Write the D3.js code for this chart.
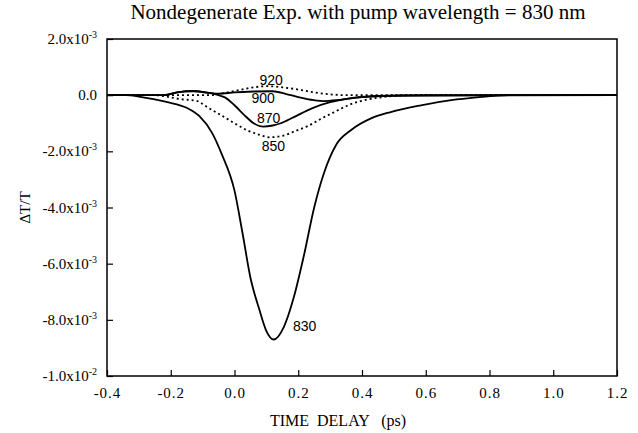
<!DOCTYPE html>
<html>
<head>
<meta charset="utf-8">
<script src="https://cdn.jsdelivr.net/npm/d3@7"></script>
<style>
  body { margin: 0; background: #fff; }
  svg { display: block; }
</style>
</head>
<body>
<div id="chart"></div>
<script>
// values are dT/T in units of 1e-3, time delay in ps
const s830 = [[-0.40, 0], [-0.34, 0], [-0.30, -0.05], [-0.25, -0.15], [-0.21, -0.25], [-0.15, -0.45],
  [-0.11, -0.75], [-0.07, -1.35], [-0.04, -2.1], [0.0, -3.4], [0.025, -4.9], [0.05, -6.5], [0.077, -7.6],
  [0.10, -8.4], [0.123, -8.7], [0.155, -8.25], [0.186, -7.2], [0.217, -5.75], [0.25, -4.0], [0.28, -2.8],
  [0.32, -1.75], [0.365, -1.25], [0.43, -0.82], [0.49, -0.6], [0.585, -0.36], [0.68, -0.18], [0.76, -0.08],
  [0.86, 0], [1.2, 0]];
const s850 = [[-0.40, 0], [-0.25, 0], [-0.20, -0.08], [-0.17, -0.14], [-0.12, -0.2], [-0.085, -0.43],
  [-0.044, -0.7], [0.0, -1.0], [0.04, -1.25], [0.08, -1.42], [0.11, -1.5], [0.15, -1.45], [0.19, -1.28],
  [0.23, -1.1], [0.27, -0.85], [0.31, -0.62], [0.365, -0.32], [0.42, -0.15], [0.48, -0.05], [0.55, 0], [1.2, 0]];
const s870 = [[-0.40, 0], [-0.22, 0], [-0.18, 0.1], [-0.13, 0.14], [-0.08, 0.08], [-0.05, 0], [-0.03, -0.08],
  [0.0, -0.36], [0.03, -0.7], [0.06, -1.0], [0.09, -1.12], [0.12, -1.08], [0.145, -1.0], [0.186, -0.78],
  [0.245, -0.46], [0.30, -0.25], [0.36, -0.12], [0.41, -0.06], [0.5, -0.02], [1.2, 0]];
const s900 = [[-0.40, 0], [-0.22, 0], [-0.18, 0.1], [-0.13, 0.15], [-0.08, 0.08], [-0.05, 0.05], [0.0, 0.1],
  [0.06, 0.13], [0.12, 0.14], [0.16, 0.05], [0.20, -0.07], [0.25, -0.18], [0.28, -0.21], [0.32, -0.18],
  [0.37, -0.1], [0.46, -0.03], [0.6, 0], [1.2, 0]];
const s920 = [[-0.40, 0], [-0.08, 0], [-0.04, 0.06], [0.0, 0.15], [0.05, 0.26], [0.10, 0.32], [0.15, 0.28],
  [0.21, 0.18], [0.25, 0.1], [0.30, 0.03], [0.35, 0], [1.2, 0]];

const xTicks = [-0.4, -0.2, 0.0, 0.2, 0.4, 0.6, 0.8, 1.0, 1.2];
const xTickLabels = ["-0.4", "-0.2", "0.0", "0.2", "0.4", "0.6", "0.8", "1.0", "1.2"];
const yTicks = [2, 0, -2, -4, -6, -8, -10];
const yTickMant = ["2.0x10", "0.0", "-2.0x10", "-4.0x10", "-6.0x10", "-8.0x10", "-1.0x10"];
const yTickExp = ["-3", "", "-3", "-3", "-3", "-3", "-2"];

const curveLabels = [
  { text: "920", t: 0.115, v: 0.53 },
  { text: "900", t: 0.09, v: -0.11 },
  { text: "870", t: 0.107, v: -0.82 },
  { text: "850", t: 0.122, v: -1.82 },
  { text: "830", t: 0.22, v: -8.22 }
];

const W = 638, H = 433;
const margin = { top: 39, right: 21, bottom: 57, left: 107 };

const svg = d3.select("#chart").append("svg")
  .attr("width", W)
  .attr("height", H);

const x = d3.scaleLinear().domain([-0.4, 1.2]).range([margin.left, W - margin.right]);
const y = d3.scaleLinear().domain([-10, 2]).range([H - margin.bottom, margin.top]);

const serif = "'Liberation Serif', 'Times New Roman', serif";
const sans = "'Liberation Sans', Arial, sans-serif";

// frame
svg.append("rect")
  .attr("x", x(-0.4)).attr("y", y(2))
  .attr("width", x(1.2) - x(-0.4)).attr("height", y(-10) - y(2))
  .attr("fill", "none").attr("stroke", "#000").attr("stroke-width", 1.5);

// axes, ticks pointing inward
const xAxis = svg.append("g")
  .attr("transform", `translate(0,${y(-10)})`)
  .call(d3.axisBottom(x).tickValues(xTicks).tickSizeInner(-6).tickSizeOuter(0)
    .tickFormat((d, i) => xTickLabels[i]));
xAxis.select(".domain").remove();
xAxis.selectAll("line").attr("stroke-width", 1.2);
xAxis.selectAll("text")
  .attr("y", 11)
  .attr("font-family", serif).attr("font-size", 15)
  .attr("letter-spacing", 1).attr("fill", "#000");

const yAxis = svg.append("g")
  .attr("transform", `translate(${x(-0.4)},0)`)
  .call(d3.axisLeft(y).tickValues(yTicks).tickSizeInner(-6).tickSizeOuter(0).tickFormat(""));
yAxis.select(".domain").remove();
yAxis.selectAll("line").attr("stroke-width", 1.2);

const yLab = svg.append("g")
  .attr("font-family", serif).attr("font-size", 15).attr("text-anchor", "end");
yTicks.forEach((v, i) => {
  const t = yLab.append("text")
    .attr("x", x(-0.4) - 10)
    .attr("y", y(v) + 5);
  t.append("tspan").text(yTickMant[i]);
  if (yTickExp[i]) {
    t.append("tspan").attr("dy", -6).attr("font-size", 10).text(yTickExp[i]);
  }
});

// curves
const line = d3.line()
  .x(d => x(d[0]))
  .y(d => y(d[1]))
  .curve(d3.curveMonotoneX);

const series = [
  { data: s920, dash: "2,3" },
  { data: s850, dash: "2,3" },
  { data: s900, dash: null },
  { data: s870, dash: null },
  { data: s830, dash: null }
];

svg.append("g")
  .selectAll("path")
  .data(series)
  .join("path")
  .attr("d", d => line(d.data))
  .attr("fill", "none")
  .attr("stroke", "#000")
  .attr("stroke-width", 1.8)
  .attr("stroke-dasharray", d => d.dash);

svg.append("g")
  .selectAll("text")
  .data(curveLabels)
  .join("text")
  .attr("x", d => x(d.t))
  .attr("y", d => y(d.v) + 5)
  .attr("text-anchor", "middle")
  .attr("font-family", sans)
  .attr("font-size", 14)
  .text(d => d.text);

// titles
svg.append("text")
  .attr("x", 358).attr("y", 19)
  .attr("text-anchor", "middle")
  .attr("font-family", serif).attr("font-size", 21)
  .text("Nondegenerate Exp. with pump wavelength = 830 nm");

svg.append("text")
  .attr("x", 338).attr("y", 426)
  .attr("text-anchor", "middle")
  .attr("font-family", serif).attr("font-size", 16)
  .attr("xml:space", "preserve")
  .text("TIME  DELAY   (ps)");

svg.append("text")
  .attr("transform", `translate(30,${y(-4)}) rotate(-90)`)
  .attr("text-anchor", "middle")
  .attr("font-family", serif).attr("font-size", 15)
  .text("\u0394T/T");
</script>
</body>
</html>
